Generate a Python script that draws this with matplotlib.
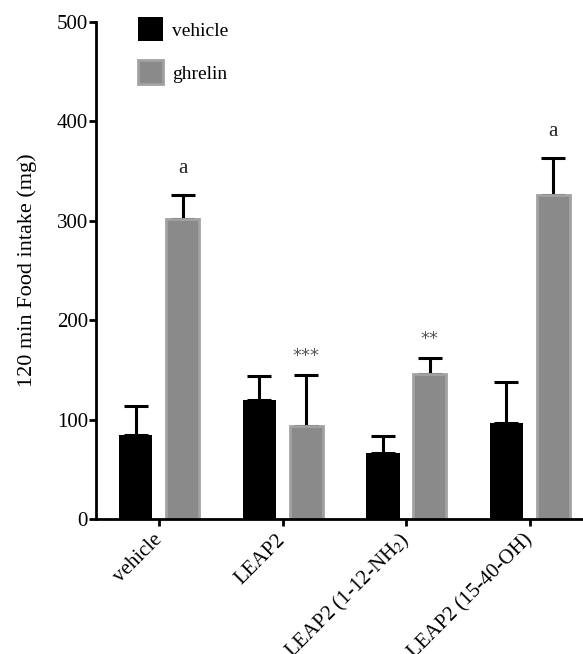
import matplotlib
matplotlib.use("Agg")
import matplotlib.pyplot as plt
import numpy as np

plt.rcParams['font.family'] = ['Liberation Serif', 'DejaVu Serif']
plt.rcParams['mathtext.fontset'] = 'stix'

# data
groups = ['vehicle', 'LEAP2', 'LEAP2 (1-12-NH$_2$)', 'LEAP2 (15-40-OH)']
vehicle_mean = [85, 120, 66, 97]
vehicle_err = [29, 24, 18, 41]
ghrelin_mean = [302, 94, 146, 326]
ghrelin_err = [24, 51, 16, 37]
ghrelin_marks = ['a', '***', '**', 'a']

x = np.arange(len(groups))
width = 0.27
off = 0.19

fig = plt.figure(figsize=(5.83, 6.54), dpi=100)
ax = fig.add_axes([0.165, 0.2064, 0.835, 0.7598])

err_kw = dict(ecolor='black', elinewidth=2.2, capsize=8.5, capthick=2.2)
ax.bar(x - off, vehicle_mean, width, color='black', label='vehicle', zorder=2)
ax.errorbar(x - off, vehicle_mean, yerr=[np.zeros(4), vehicle_err], fmt='none', zorder=1, **err_kw)
ax.bar(x + off, ghrelin_mean, width, color='#8a8a8a', edgecolor='#a2a2a2', linewidth=2,
       label='ghrelin', zorder=2)
ax.errorbar(x + off, ghrelin_mean, yerr=[np.zeros(4), ghrelin_err], fmt='none', zorder=1, **err_kw)

# significance marks
for xi, m, e, mark in zip(x, ghrelin_mean, ghrelin_err, ghrelin_marks):
    if mark == 'a':
        ax.text(xi + off, m + e + 27, mark, ha='center', va='center', fontsize=15, color='#222222')
    else:
        ax.text(xi + off, m + e + 19, mark, ha='center', va='center', fontsize=13,
                color='#555555', family='DejaVu Sans')

ax.set_xlim(-0.51, 3.43)
ax.set_ylim(0, 500)
ax.set_yticks([0, 100, 200, 300, 400, 500])
ax.set_xticks(x)
ax.set_xticklabels(groups, rotation=45, ha='right', va='center', rotation_mode='anchor', fontsize=15)
ax.tick_params(axis='y', labelsize=15, width=2, length=5, direction='out', pad=1)
ax.tick_params(axis='x', width=2, length=5, direction='out', pad=8)
ax.set_ylabel('120 min Food intake (mg)', fontsize=16, labelpad=14)

for s in ['top', 'right']:
    ax.spines[s].set_visible(False)
for s in ['left', 'bottom']:
    ax.spines[s].set_linewidth(2)

ax.legend(loc='upper left', bbox_to_anchor=(0.05, 1.045), frameon=False, fontsize=14,
          handlelength=1.3, handleheight=1.5, labelspacing=1.0, handletextpad=0.45)

fig.savefig('out.png', dpi=100)
